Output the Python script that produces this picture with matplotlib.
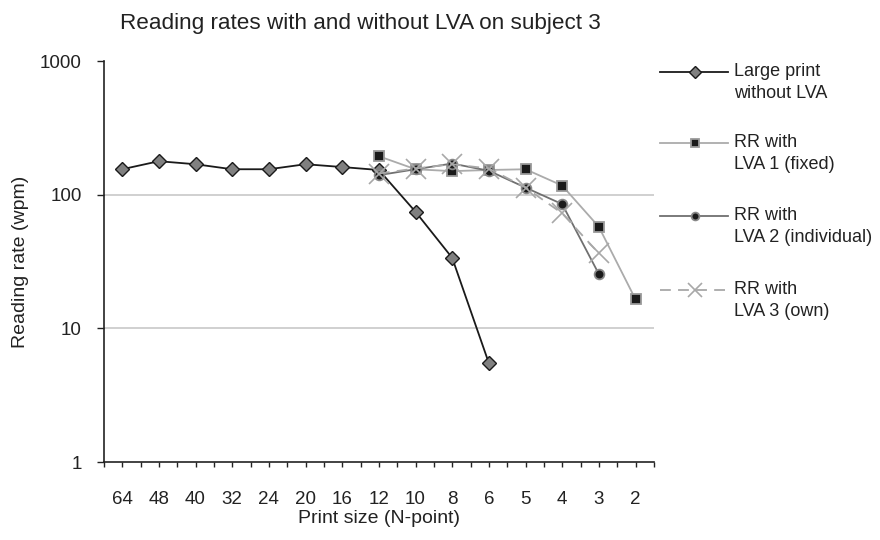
import numpy as np
import matplotlib
matplotlib.use("Agg")
import matplotlib.pyplot as plt
from matplotlib.lines import Line2D

plt.rcParams['font.family'] = ['Liberation Sans', 'DejaVu Sans']
plt.rcParams['text.color'] = "#222222"
plt.rcParams['axes.labelcolor'] = "#222222"
plt.rcParams['xtick.labelcolor'] = "#222222"
plt.rcParams['ytick.labelcolor'] = "#222222"

# print sizes (N-point), in plotting order
sizes = ["64", "48", "40", "32", "24", "20", "16", "12", "10", "8", "6", "5", "4", "3", "2"]
nan = np.nan
large_print = [155, 178, 169, 155, 155, 169, 161, 153, 74.5, 33.7, 5.5, nan, nan, nan, nan]
lva1_fixed = [nan, nan, nan, nan, nan, nan, nan, 194, 155, 150, 153, 155, 117, 57.5, 16.5]
lva2_indiv = [nan, nan, nan, nan, nan, nan, nan, 140, 155, 171, 151, 113, 85, 25.5, nan]
lva3_own = [nan, nan, nan, nan, nan, nan, nan, 144, 157, 169, 157, 113, 72.5, 36.4, nan]

labels = [("Large print", "without LVA"), ("RR with", "LVA 1 (fixed)"),
          ("RR with", "LVA 2 (individual)"), ("RR with", "LVA 3 (own)")]

fig = plt.figure(figsize=(8.8, 5.4), dpi=100)
ax = fig.add_axes([0.118, 0.1444, 0.625, 0.7426])

x = np.arange(len(sizes))

styles = [
    dict(color="#1a1a1a", lw=1.3, ls="-", marker="D", ms=7.5, mfc="#808080", mec="#1a1a1a", mew=1.0),
    dict(color="#ababab", lw=1.3, ls="-", marker="s", ms=6.5, mfc="#1a1a1a", mec="#9a9a9a", mew=1.3),
    dict(color="#707070", lw=1.3, ls="-", marker="o", ms=7, mfc="#1a1a1a", mec="#888888", mew=1.3),
    dict(color="#a8a8a8", lw=1.3, ls=(0, (6, 4)), marker="x", ms=15, mfc="#a8a8a8", mec="#a8a8a8", mew=1.2),
]
series = [large_print, lva1_fixed, lva2_indiv, lva3_own]

for ys, st in zip(series, styles):
    ys = np.array(ys, dtype=float)
    m = ~np.isnan(ys)
    ax.plot(x[m], ys[m], **st, zorder=3)

ax.set_yscale("log")
ax.set_ylim(1, 1000)
ax.set_xlim(-0.5, len(sizes) - 0.5)
ax.set_yticks([1, 10, 100, 1000])
ax.set_yticklabels(["1", "10", "100", "1000"])
ax.yaxis.set_minor_locator(matplotlib.ticker.NullLocator())

# ticks at category edges and centres, labels on the centres
ax.set_xticks(np.arange(-0.5, len(sizes), 0.5))
tick_labels = []
for i in range(2 * len(sizes) + 1):
    tick_labels.append(sizes[i // 2] if i % 2 == 1 else "")
ax.set_xticklabels(tick_labels)
ax.tick_params(axis="x", length=3.6, width=1, pad=17.5, labelsize=13.5, color="#222222")
ax.tick_params(axis="y", length=5, width=1, pad=11, labelsize=13.5, color="#222222")

for s in ["top", "right"]:
    ax.spines[s].set_visible(False)
for s in ["left", "bottom"]:
    ax.spines[s].set_color("#222222")
    ax.spines[s].set_linewidth(1.2)

for g in [10, 100]:
    ax.axhline(g, color="#c8c8c8", lw=1.2, zorder=1)

ax.set_xlabel("Print size (N-point)", fontsize=14, labelpad=1.5)
ax.set_ylabel("Reading rate (wpm)", fontsize=14, labelpad=8)
fig.text(360 / 880, 1 - 23 / 540, "Reading rates with and without LVA on subject 3",
         ha="center", va="center", fontsize=16.2)

# legend drawn at the right, handle aligned with the first text line
leg_y = [71.7, 142.7, 216, 290]
for ly, st, lab in zip(leg_y, styles, labels):
    yf = 1 - ly / 540
    line = Line2D([660 / 880, 728 / 880], [yf, yf], transform=fig.transFigure,
                  color=st["color"], lw=st["lw"], ls=st["ls"])
    fig.add_artist(line)
    msize = 10 if st["marker"] == "x" else st["ms"] * 0.8
    mk = Line2D([695 / 880], [yf], transform=fig.transFigure, ls="none",
                marker=st["marker"], ms=msize,
                mfc=st["mfc"], mec=st["mec"], mew=st["mew"])
    fig.add_artist(mk)
    fig.text(734 / 880, yf, lab[0], ha="left", va="center", fontsize=13)
    fig.text(734 / 880, yf - 22 / 540, lab[1], ha="left", va="center", fontsize=13)

fig.savefig("out.png", dpi=100)
